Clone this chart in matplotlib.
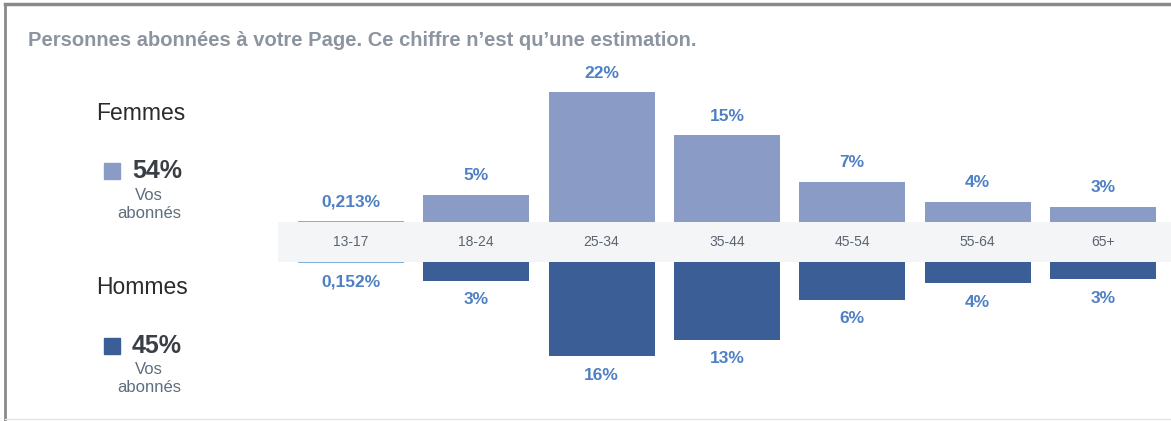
import matplotlib.pyplot as plt
from matplotlib.lines import Line2D

# données
tranches = ['13-17', '18-24', '25-34', '35-44', '45-54', '55-64', '65+']
femmes = [0.213, 4.6, 22.0, 14.7, 6.8, 3.4, 2.6]
hommes = [0.152, 3.2, 16.0, 13.2, 6.4, 3.6, 2.9]
etiq_femmes = ['0,213%', '5%', '22%', '15%', '7%', '4%', '3%']
etiq_hommes = ['0,152%', '3%', '16%', '13%', '6%', '4%', '3%']
total_femmes = '54%'
total_hommes = '45%'

W, H = 1171, 421
c_femmes = '#8a9cc6'
c_hommes = '#3b5e97'
c_mince = '#7fb0de'
c_etiq = '#4f80c4'

plt.rcParams['font.family'] = ['Liberation Sans', 'DejaVu Sans']

fig = plt.figure(figsize=(W / 100, H / 100), dpi=100)


def rect(x0, y0, x1, y1):
    # pixels (origine en haut à gauche) -> fraction de figure
    return [x0 / W, 1 - y1 / H, (x1 - x0) / W, (y1 - y0) / H]


pas = 125.3
x_gauche, x_droite = 278, 1165
xlim = (-(351 - x_gauche) / pas, (x_droite - 351) / pas)
px_par_pct = 5.9
largeur = 106 / pas
decal = 19 * 0.72  # 19 px en points

# bande des tranches d'âge
ax_b = fig.add_axes(rect(x_gauche, 222, W, 262))
ax_b.set_xlim(xlim[0], xlim[0] + (W - x_gauche) / pas)
ax_b.set_ylim(0, 1)
ax_b.axis('off')
ax_b.add_patch(plt.Rectangle((0, 0), 1, 1, transform=ax_b.transAxes,
                             color='#f4f5f6', zorder=0))
for i, t in enumerate(tranches):
    ax_b.text(i, 0.5, t, ha='center', va='center', fontsize=10, color='#5a6470')

# femmes (haut)
ax_f = fig.add_axes(rect(x_gauche, 55, x_droite, 222))
ax_f.set_xlim(*xlim)
ax_f.set_ylim(0, 167 / px_par_pct)
couleurs_f = [c_mince] + [c_femmes] * (len(tranches) - 1)
ax_f.bar(range(len(tranches)), femmes, width=largeur, color=couleurs_f)
for i, (v, e) in enumerate(zip(femmes, etiq_femmes)):
    ax_f.annotate(e, (i, v), xytext=(0, decal), textcoords='offset points',
                  ha='center', va='center', fontsize=12.5, fontweight='bold',
                  color=c_etiq)
ax_f.axis('off')

# hommes (bas)
ax_h = fig.add_axes(rect(x_gauche, 262, x_droite, 400))
ax_h.set_xlim(*xlim)
ax_h.set_ylim(138 / px_par_pct, 0)
couleurs_h = [c_mince] + [c_hommes] * (len(tranches) - 1)
ax_h.bar(range(len(tranches)), hommes, width=largeur, color=couleurs_h)
for i, (v, e) in enumerate(zip(hommes, etiq_hommes)):
    ax_h.annotate(e, (i, v), xytext=(0, -decal), textcoords='offset points',
                  ha='center', va='center', fontsize=12.5, fontweight='bold',
                  color=c_etiq)
ax_h.axis('off')

# titre
fig.text(28 / W, 1 - 40 / H,
         "Personnes abonnées à votre Page. Ce chiffre n\u2019est qu\u2019une estimation.",
         ha='left', va='center', fontsize=14.5, fontweight='bold', color='#8c959f')

# légende de gauche
for y0, nom, total, coul in [(113, 'Femmes', total_femmes, c_femmes),
                             (288, 'Hommes', total_hommes, c_hommes)]:
    fig.text(96 / W, 1 - y0 / H, nom, ha='left', va='center',
             fontsize=16.5, color='#2b2b2b')
    fig.patches.append(plt.Rectangle((104 / W, 1 - (y0 + 66) / H), 16 / W, 16 / H,
                                     transform=fig.transFigure, color=coul,
                                     figure=fig))
    fig.text(132 / W, 1 - (y0 + 58) / H, total, ha='left', va='center',
             fontsize=18, fontweight='bold', color='#3a3f45')
    fig.text(149 / W, 1 - (y0 + 82) / H, 'Vos', ha='center', va='center',
             fontsize=12, color='#5e6e7e')
    fig.text(149 / W, 1 - (y0 + 100) / H, 'abonnés', ha='center', va='center',
             fontsize=12, color='#5e6e7e')

# cadre
fig.lines.append(Line2D([5 / W, 1], [1 - 4 / H, 1 - 4 / H], transform=fig.transFigure,
                        color='#8a8a8a', lw=2.5))
fig.lines.append(Line2D([5 / W, 5 / W], [0, 1 - 4 / H], transform=fig.transFigure,
                        color='#8a8a8a', lw=2))
fig.lines.append(Line2D([5 / W, 1], [2 / H, 2 / H], transform=fig.transFigure,
                        color='#e3e3e3', lw=1))

fig.savefig('out.png', dpi=100)
